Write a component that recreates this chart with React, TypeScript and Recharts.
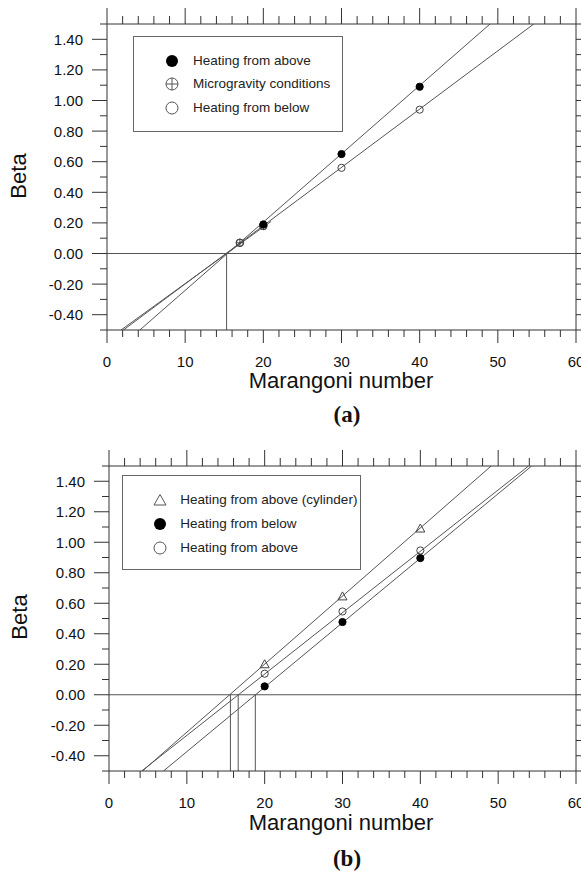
import React from 'react';
import { ComposedChart, Line, Scatter, XAxis, YAxis, ReferenceLine } from 'recharts';

// ---------- Data ----------
const xTicks = [0, 2, 4, 6, 8, 10, 12, 14, 16, 18, 20, 22, 24, 26, 28, 30, 32, 34, 36, 38, 40, 42, 44, 46, 48, 50, 52, 54, 56, 58, 60];
const yTicks = [-0.5, -0.4, -0.3, -0.2, -0.1, 0, 0.1, 0.2, 0.3, 0.4, 0.5, 0.6, 0.7, 0.8, 0.9, 1.0, 1.1, 1.2, 1.3, 1.4, 1.5];

// Panel (a)
const ptsAboveA = [{ x: 20, y: 0.19 }, { x: 30, y: 0.65 }, { x: 40, y: 1.09 }];
const ptsMicroA = [{ x: 17, y: 0.07 }, { x: 20, y: 0.18 }];
const ptsBelowA = [{ x: 17, y: 0.07 }, { x: 20, y: 0.18 }, { x: 30, y: 0.56 }, { x: 40, y: 0.94 }];
const fitAboveA = [{ x: 4.2, y: -0.5 }, { x: 49, y: 1.5 }];
const fitBelowA = [{ x: 2.1, y: -0.5 }, { x: 54.6, y: 1.5 }];
const fitMicroA = [{ x: 1.8, y: -0.5 }, { x: 21, y: 0.21 }];
const dropA = [{ x: 15.3, y: -0.5 }, { x: 15.3, y: 0 }];

// Panel (b)
const ptsCylB = [{ x: 20, y: 0.2 }, { x: 30, y: 0.645 }, { x: 40, y: 1.09 }];
const ptsBelowB = [{ x: 20, y: 0.055 }, { x: 30, y: 0.477 }, { x: 40, y: 0.896 }];
const ptsAboveB = [{ x: 20, y: 0.138 }, { x: 30, y: 0.546 }, { x: 40, y: 0.946 }];
const fitCylB = [{ x: 4.3, y: -0.5 }, { x: 49.1, y: 1.5 }];
const fitAboveB = [{ x: 4.2, y: -0.5 }, { x: 53.9, y: 1.5 }];
const fitBelowB = [{ x: 7.0, y: -0.5 }, { x: 54.3, y: 1.5 }];
const dropCylB = [{ x: 15.6, y: -0.5 }, { x: 15.6, y: 0 }];
const dropAboveB = [{ x: 16.6, y: -0.5 }, { x: 16.6, y: 0 }];
const dropBelowB = [{ x: 18.8, y: -0.5 }, { x: 18.8, y: 0 }];

const legendA = ['Heating from above', 'Microgravity conditions', 'Heating from below'];
const legendB = ['Heating from above (cylinder)', 'Heating from below', 'Heating from above'];

// ---------- Styles ----------
const FONT = '"Liberation Sans", Arial, Helvetica, sans-serif';
const AX = '#333';
const LN = '#555';

// ---------- Ticks ----------
const BottomTick = (p: any) => {
  const { x, y, payload } = p;
  const v = payload.value;
  const major = Math.round(v) % 10 === 0;
  return (
    <g>
      <line x1={x} x2={x} y1={y} y2={y + (major ? 13 : 7)} stroke={AX} />
      {major && (
        <text x={x} y={y + 31} textAnchor="middle" dominantBaseline="central" fontSize={15} fontFamily={FONT} fill="#111">
          {v}
        </text>
      )}
    </g>
  );
};
const TopTick = (p: any) => {
  const { x, y, payload } = p;
  const major = Math.round(payload.value) % 10 === 0;
  return <line x1={x} x2={x} y1={y} y2={y - (major ? 16 : 8)} stroke={AX} />;
};
const LeftTick = (p: any) => {
  const { x, y, payload } = p;
  const v = payload.value;
  const k = Math.round(v * 10);
  const major = Math.abs(k) % 2 === 0;
  return (
    <g>
      <line x1={x - (major ? 15 : 7)} x2={x} y1={y} y2={y} stroke={AX} />
      {major && (
        <text x={x - 24} y={y} textAnchor="end" dominantBaseline="central" fontSize={15} fontFamily={FONT} fill="#111">
          {v.toFixed(2)}
        </text>
      )}
    </g>
  );
};
const RightTick = (p: any) => {
  const { x, y } = p;
  return <line x1={x} x2={x + 8} y1={y} y2={y} stroke={AX} />;
};

// ---------- Marker shapes ----------
const filledDot = (p: any) => <circle cx={p.cx} cy={p.cy} r={3.6} fill="#000" stroke="#000" />;
const openDot = (p: any) => <circle cx={p.cx} cy={p.cy} r={3.6} fill="none" stroke="#444" strokeWidth={1} />;
const crossDot = (p: any) => (
  <g>
    <circle cx={p.cx} cy={p.cy} r={3.8} fill="none" stroke="#444" />
    <line x1={p.cx - 3.8} x2={p.cx + 3.8} y1={p.cy} y2={p.cy} stroke="#444" />
    <line x1={p.cx} x2={p.cx} y1={p.cy - 3.8} y2={p.cy + 3.8} stroke="#444" />
  </g>
);
const triDot = (p: any) => (
  <polygon points={`${p.cx},${p.cy - 4.5} ${p.cx - 4.5},${p.cy + 3.5} ${p.cx + 4.5},${p.cy + 3.5}`} fill="none" stroke="#444" />
);

const LegFilled = () => (
  <svg width={14} height={14}><circle cx={7} cy={7} r={6} fill="#000" /></svg>
);
const LegOpen = () => (
  <svg width={14} height={14}><circle cx={7} cy={7} r={6} fill="none" stroke="#555" /></svg>
);
const LegCross = () => (
  <svg width={14} height={14}>
    <circle cx={7} cy={7} r={6} fill="none" stroke="#555" />
    <line x1={1} x2={13} y1={7} y2={7} stroke="#555" />
    <line x1={7} x2={7} y1={1} y2={13} stroke="#555" />
  </svg>
);
const LegTri = () => (
  <svg width={14} height={14}><polygon points="7,1.5 1,12 13,12" fill="none" stroke="#555" /></svg>
);

const Legend = ({ left, top, width, height, markerX, textX, rows, items, markers }: any) => (
  <div
    style={{
      position: 'absolute', left, top, width, height, border: '1px solid #666', background: '#fff', boxSizing: 'border-box',
    }}
  >
    {items.map((t: string, i: number) => {
      const M = markers[i];
      return (
        <React.Fragment key={t + i}>
          <div style={{ position: 'absolute', left: markerX - 7, top: rows[i] - 7, width: 14, height: 14, lineHeight: 0 }}>
            <M />
          </div>
          <div
            style={{
              position: 'absolute', left: textX, top: rows[i] - 9, height: 18, lineHeight: '18px', fontFamily: FONT, fontSize: 13.5, color: '#222', whiteSpace: 'nowrap',
            }}
          >
            {t}
          </div>
        </React.Fragment>
      );
    })}
  </div>
);

const Title = ({ text, cx, cy, size, serif, bold, rotate }: any) => (
  <div
    style={{
      position: 'absolute', left: cx - 150, top: cy - 15, width: 300, height: 30, lineHeight: '30px', textAlign: 'center',
      fontFamily: serif ? '"Liberation Serif", "Times New Roman", serif' : FONT, fontWeight: bold ? 700 : 400,
      fontSize: size, color: '#111', transform: rotate ? 'rotate(-90deg)' : undefined, whiteSpace: 'nowrap',
    }}
  >
    {text}
  </div>
);

const axesCommon = (topH: number, botH: number, leftW: number) => [
  <XAxis key="xb" xAxisId="b" dataKey="x" type="number" domain={[0, 60]} ticks={xTicks} interval={0} allowDataOverflow
    height={botH} tickSize={0} tickMargin={0} tickLine={false} axisLine={{ stroke: AX }} tick={BottomTick} />,
  <XAxis key="xt" xAxisId="t" orientation="top" dataKey="x" type="number" domain={[0, 60]} ticks={xTicks} interval={0} allowDataOverflow
    height={topH} tickSize={0} tickMargin={0} tickLine={false} axisLine={{ stroke: AX }} tick={TopTick} />,
  <YAxis key="yl" yAxisId="l" dataKey="y" type="number" domain={[-0.5, 1.5]} ticks={yTicks} interval={0} allowDataOverflow
    width={leftW} tickSize={0} tickMargin={0} tickLine={false} axisLine={{ stroke: AX }} tick={LeftTick} />,
  <YAxis key="yr" yAxisId="r" orientation="right" dataKey="y" type="number" domain={[-0.5, 1.5]} ticks={yTicks} interval={0} allowDataOverflow
    width={5} tickSize={0} tickMargin={0} tickLine={false} axisLine={{ stroke: AX }} tick={RightTick} />,
];

const fitLine = (data: any[], key: string) => (
  <Line key={key} data={data} dataKey="y" xAxisId="b" yAxisId="l" type="linear" stroke={LN} strokeWidth={1}
    dot={false} activeDot={false} isAnimationActive={false} legendType="none" />
);
const pts = (data: any[], shape: any, key: string) => (
  <Scatter key={key} data={data} dataKey="y" xAxisId="b" yAxisId="l" shape={shape} isAnimationActive={false} legendType="none" />
);

export default function App() {
  return (
    <div style={{ position: 'absolute', left: 0, top: 0, width: 581, height: 874, background: '#fff', overflow: 'hidden' }}>
      {/* Panel (a) */}
      <div style={{ position: 'absolute', left: 0, top: 0 }}>
        <ComposedChart width={581} height={437} margin={{ top: 0, right: 0, bottom: 0, left: 0 }}>
          {axesCommon(24, 107, 107)}
          <ReferenceLine y={0} xAxisId="b" yAxisId="l" stroke={LN} />
          {fitLine(dropA, 'dA')}
          {fitLine(fitAboveA, 'fa')}
          {fitLine(fitBelowA, 'fb')}
          {fitLine(fitMicroA, 'fm')}
          {pts(ptsBelowA, openDot, 'pb')}
          {pts(ptsMicroA, crossDot, 'pm')}
          {pts(ptsAboveA, filledDot, 'pa')}
        </ComposedChart>
      </div>
      <Legend left={133} top={36} width={210} height={96} markerX={37.5} textX={59} rows={[24, 47.3, 70.7]}
        items={legendA} markers={[LegFilled, LegCross, LegOpen]} />

      {/* Panel (b) */}
      <div style={{ position: 'absolute', left: 0, top: 437 }}>
        <ComposedChart width={581} height={437} margin={{ top: 0, right: 0, bottom: 0, left: 0 }}>
          {axesCommon(29, 103, 109)}
          <ReferenceLine y={0} xAxisId="b" yAxisId="l" stroke={LN} />
          {fitLine(dropCylB, 'd1')}
          {fitLine(dropAboveB, 'd2')}
          {fitLine(dropBelowB, 'd3')}
          {fitLine(fitCylB, 'f1')}
          {fitLine(fitAboveB, 'f2')}
          {fitLine(fitBelowB, 'f3')}
          {pts(ptsCylB, triDot, 'p1')}
          {pts(ptsAboveB, openDot, 'p2')}
          {pts(ptsBelowB, filledDot, 'p3')}
        </ComposedChart>
      </div>
      <Legend left={122} top={475} width={239} height={95} markerX={37.3} textX={57.3} rows={[24, 47.7, 71.7]}
        items={legendB} markers={[LegTri, LegFilled, LegOpen]} />

      <Title text="Beta" cx={19} cy={176} size={22} rotate />
      <Title text="Marangoni number" cx={341} cy={381} size={22} />
      <Title text="(a)" cx={347} cy={415} size={23} serif bold />
      <Title text="Beta" cx={20} cy={617} size={22} rotate />
      <Title text="Marangoni number" cx={341} cy={823} size={22} />
      <Title text="(b)" cx={347} cy={859} size={23} serif bold />
    </div>
  );
}
